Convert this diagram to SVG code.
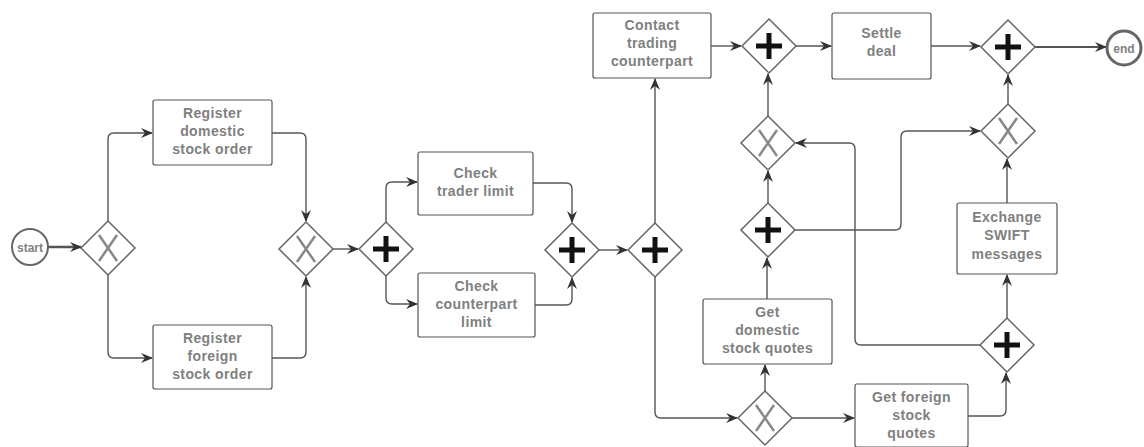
<svg xmlns="http://www.w3.org/2000/svg" width="1144" height="447" viewBox="0 0 1144 447">
  <style>
    .task rect { fill: #fff; stroke: #555; stroke-width: 1.2; }
    .task text, .event text { font-family: "Liberation Sans", Arial, sans-serif; font-size: 14px; font-weight: bold; fill: #808080; text-anchor: middle; letter-spacing: 0.4px; }
    path.d { fill: #fff; stroke: #666; stroke-width: 1.5; }
    path.x { fill: none; stroke: #888; stroke-width: 2.5; }
    path.p { fill: none; stroke: #111; stroke-width: 5; }
    .event circle { fill: #fff; stroke: #666; stroke-width: 2; }
    #connectors path { fill: none; stroke: #555; stroke-width: 1.4; marker-end: url(#arrow); }
  </style>
  <defs>
    <marker id="arrow" viewBox="0 0 12 10" refX="11" refY="5" markerWidth="12" markerHeight="10" markerUnits="userSpaceOnUse" orient="auto">
      <path d="M0,0 L12,5 L0,10 L4,5 z" fill="#333"/>
    </marker>
    <path id="diamond" class="d" d="M0,-27 L27,0 L0,27 L-27,0 z"/>
    <path id="xmark" class="x" d="M-9,-13 L9,13 M9,-13 L-9,13"/>
    <path id="plus" class="p" d="M-13,0 H13 M0,-13 V13"/>
  </defs>

  <!-- sequence flows -->
  <g id="connectors">
    <path d="M48,247 H81" style="stroke-width:2.4"/>
    <path d="M108,221 V139 Q108,133 114,133 H152"/>
    <path d="M108,275 V352 Q108,358 114,358 H152"/>
    <path d="M272,133 H300 Q306,133 306,139 V221"/>
    <path d="M272,358 H300 Q306,358 306,352 V277"/>
    <path d="M333,249 H358"/>
    <path d="M386,222 V188 Q386,182 392,182 H417"/>
    <path d="M386,276 V298 Q386,304 392,304 H417"/>
    <path d="M533,183 H566 Q572,183 572,189 V222"/>
    <path d="M535,305 H566 Q572,305 572,299 V278"/>
    <path d="M599,250 H627"/>
    <path d="M655,223 V79"/>
    <path d="M655,277 V412 Q655,418 661,418 H737"/>
    <path d="M765,391 V365"/>
    <path d="M767,299 V258"/>
    <path d="M792,418 H854"/>
    <path d="M968,416 H1000 Q1006,416 1006,410 V373"/>
    <path d="M1007,318 V275"/>
    <path d="M1007,203 V159"/>
    <path d="M795,230 H895 Q901,230 901,224 V137 Q901,131 907,131 H980"/>
    <path d="M980,345 H861 Q855,345 855,339 V149 Q855,143 849,143 H796"/>
    <path d="M768,203 V171"/>
    <path d="M768,116 V74"/>
    <path d="M711,46 H741"/>
    <path d="M796,46 H831"/>
    <path d="M931,46 H980"/>
    <path d="M1008,104 V75"/>
    <path d="M1035,47 H1106" style="stroke-width:2"/>
  </g>

  <!-- events -->
  <g id="start" class="event">
    <circle cx="30" cy="247" r="18"/>
    <text x="30" y="252" style="font-size:12px;letter-spacing:0">start</text>
  </g>
  <g id="end" class="event">
    <circle cx="1124" cy="48" r="17" style="stroke-width:3"/>
    <text x="1124" y="53" style="font-size:12px;letter-spacing:0">end</text>
  </g>

  <!-- tasks -->
  <g id="register-domestic" class="task">
    <rect x="153" y="100" width="119" height="65" rx="2"/>
    <text x="212.5" y="118">Register</text>
    <text x="212.5" y="136">domestic</text>
    <text x="212.5" y="154">stock order</text>
  </g>
  <g id="register-foreign" class="task">
    <rect x="153" y="325" width="119" height="64" rx="2"/>
    <text x="212.5" y="343">Register</text>
    <text x="212.5" y="361">foreign</text>
    <text x="212.5" y="379">stock order</text>
  </g>
  <g id="check-trader" class="task">
    <rect x="418" y="152" width="115" height="63" rx="2"/>
    <text x="475.5" y="178">Check</text>
    <text x="475.5" y="196">trader limit</text>
  </g>
  <g id="check-counterpart" class="task">
    <rect x="418" y="273" width="117" height="64" rx="2"/>
    <text x="476.5" y="291">Check</text>
    <text x="476.5" y="309">counterpart</text>
    <text x="476.5" y="327">limit</text>
  </g>
  <g id="contact" class="task">
    <rect x="593" y="13" width="118" height="65" rx="2"/>
    <text x="652" y="30">Contact</text>
    <text x="652" y="48">trading</text>
    <text x="652" y="66">counterpart</text>
  </g>
  <g id="settle" class="task">
    <rect x="832" y="13" width="99" height="66" rx="2"/>
    <text x="881.5" y="38">Settle</text>
    <text x="881.5" y="56">deal</text>
  </g>
  <g id="get-domestic" class="task">
    <rect x="703" y="299" width="129" height="65" rx="2"/>
    <text x="767.5" y="317">Get</text>
    <text x="767.5" y="335">domestic</text>
    <text x="767.5" y="353">stock quotes</text>
  </g>
  <g id="get-foreign" class="task">
    <rect x="855" y="384" width="113" height="63" rx="2"/>
    <text x="911.5" y="402">Get foreign</text>
    <text x="911.5" y="420">stock</text>
    <text x="911.5" y="438">quotes</text>
  </g>
  <g id="exchange-swift" class="task">
    <rect x="957" y="203" width="100" height="71" rx="2"/>
    <text x="1007" y="222">Exchange</text>
    <text x="1007" y="240">SWIFT</text>
    <text x="1007" y="259">messages</text>
  </g>

  <!-- gateways -->
  <g id="xor-split-order" transform="translate(108,248)"><use href="#diamond"/><use href="#xmark"/></g>
  <g id="xor-join-order" transform="translate(306,249)"><use href="#diamond"/><use href="#xmark"/></g>
  <g id="and-split-limits" transform="translate(386,249)"><use href="#diamond"/><use href="#plus"/></g>
  <g id="and-join-limits" transform="translate(572,250)"><use href="#diamond"/><use href="#plus"/></g>
  <g id="and-split-trade" transform="translate(655,250)"><use href="#diamond"/><use href="#plus"/></g>
  <g id="xor-split-quotes" transform="translate(765,418)"><use href="#diamond"/><use href="#xmark"/></g>
  <g id="and-split-domestic" transform="translate(768,230)"><use href="#diamond"/><use href="#plus"/></g>
  <g id="xor-join-quotes" transform="translate(768,143)"><use href="#diamond"/><use href="#xmark"/></g>
  <g id="and-join-settle" transform="translate(769,46)"><use href="#diamond"/><use href="#plus"/></g>
  <g id="and-join-end" transform="translate(1008,47)"><use href="#diamond"/><use href="#plus"/></g>
  <g id="xor-join-swift" transform="translate(1008,131)"><use href="#diamond"/><use href="#xmark"/></g>
  <g id="and-split-foreign" transform="translate(1007,345)"><use href="#diamond"/><use href="#plus"/></g>
</svg>
